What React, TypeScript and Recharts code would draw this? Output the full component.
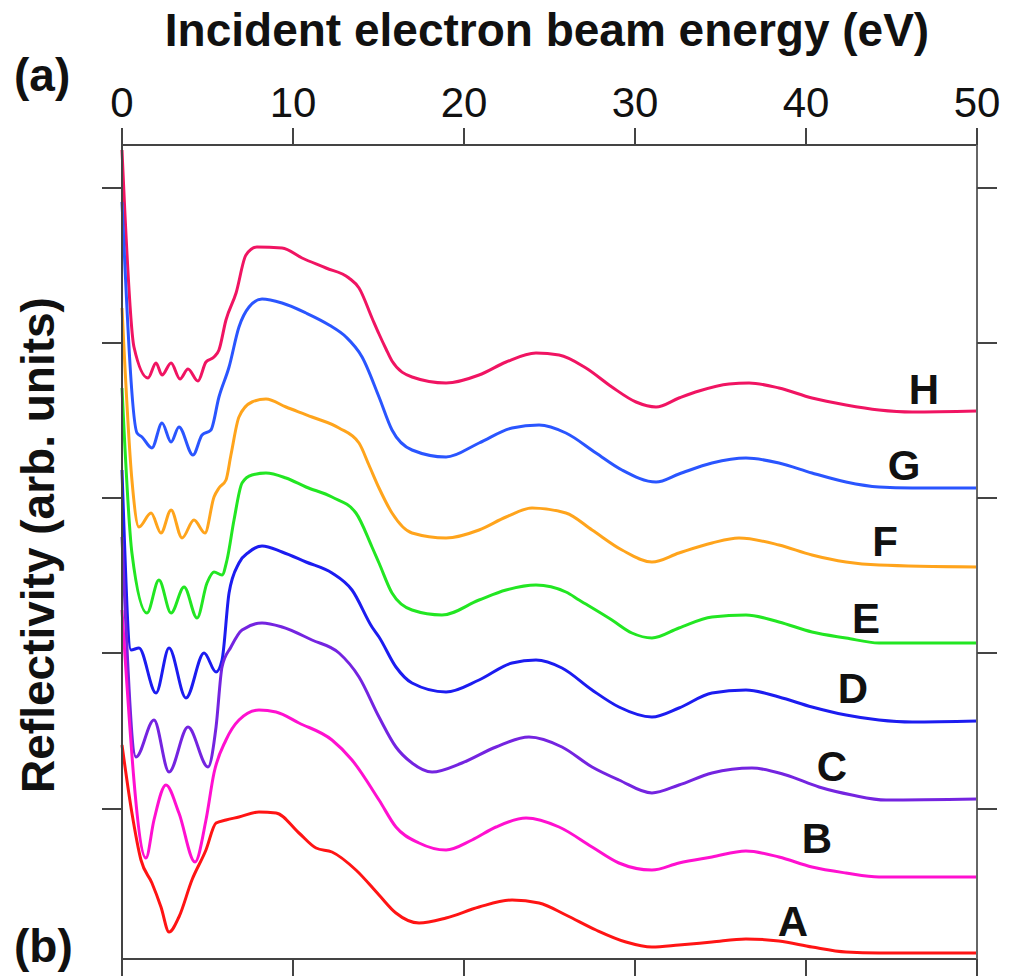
import { LineChart, Line, XAxis, YAxis, ReferenceLine } from 'recharts';

// energy (eV) and reflectivity (arb. units, curves offset vertically)
const energyH = [0, 0.7, 1.52, 1.99, 2.34, 2.87, 3.39, 3.86, 4.44, 4.91, 5.38, 5.67, 6.08, 6.67, 7.25, 7.89, 9.36, 10.53, 11.93, 13.27, 13.86, 14.62, 15.03, 15.44, 15.79, 16.96, 18.95, 20.88, 22.46, 24.21, 25.56, 27.13, 28.65, 30.06, 31.23, 32.57, 33.74, 35.5, 36.67, 38.42, 40.35, 42.34, 44.27, 46.2, 50];
const reflH = [810, 613, 582, 597, 585, 597, 581, 591, 579, 598, 603, 610, 640, 667, 705, 713, 712, 702, 692, 682, 672, 642, 626, 611, 599, 583, 577, 585, 598, 607, 605, 592, 573, 558, 553, 562, 569, 576, 577, 572, 562, 555, 550, 548, 549];

const energyG = [0, 0.88, 1.17, 1.75, 2.34, 2.87, 3.33, 4.15, 4.68, 5.2, 5.67, 6.26, 6.84, 7.43, 8.19, 9.36, 10.76, 12.11, 13.1, 14.04, 15.03, 15.79, 16.96, 18.95, 20.88, 22.81, 24.39, 25.96, 27.72, 29.24, 31.23, 32.57, 34.5, 36.49, 38.42, 40.35, 42.34, 44.27, 46.2, 50];
const reflG = [758, 527, 523, 512, 537, 518, 533, 505, 525, 530, 563, 593, 633, 653, 661, 657, 647, 635, 623, 603, 563, 530, 510, 503, 517, 532, 535, 527, 507, 490, 478, 486, 497, 502, 497, 487, 478, 473, 472, 472];

const energyF = [0, 0.58, 0.99, 1.7, 2.28, 2.87, 3.51, 4.21, 4.85, 5.38, 5.67, 6.08, 6.37, 6.84, 7.6, 8.42, 9.59, 11.11, 12.69, 13.86, 14.44, 15.03, 15.79, 16.96, 18.95, 20.88, 22.46, 23.98, 25.96, 27.49, 29.24, 30.99, 32.57, 34.5, 36.08, 38.42, 40.35, 42.34, 44.27, 50];
const reflF = [652, 480, 433, 447, 427, 450, 422, 440, 427, 463, 472, 480, 505, 543, 558, 561, 553, 543, 532, 517, 495, 472, 447, 427, 422, 430, 443, 452, 447, 430, 410, 398, 407, 417, 422, 415, 405, 398, 395, 393];

const energyE = [0, 0.58, 1.46, 2.16, 2.87, 3.63, 4.39, 4.97, 5.38, 5.85, 6.14, 6.55, 7.02, 7.6, 8.42, 9.59, 10.76, 12.28, 13.68, 14.62, 15.03, 15.79, 16.96, 18.71, 20.88, 22.46, 24.21, 25.96, 26.73, 28.65, 29.82, 30.99, 32.57, 34.5, 36.49, 38.42, 40.35, 42.34, 44.27, 50];
const reflE = [572, 407, 347, 380, 347, 373, 342, 377, 388, 385, 400, 440, 477, 485, 487, 482, 473, 463, 447, 413, 397, 367, 350, 345, 360, 370, 375, 368, 360, 340, 327, 322, 332, 343, 345, 338, 328, 322, 317, 317];

const energyD = [0, 0.53, 0.99, 1.99, 2.75, 3.74, 4.8, 5.5, 5.85, 6.26, 6.84, 7.43, 8.19, 9.36, 10.76, 12.28, 13.45, 14.62, 15.03, 16.02, 16.96, 18.95, 20.88, 22.81, 24.21, 25.73, 27.49, 29.06, 30.99, 32.57, 34.5, 36.49, 38.42, 40.35, 42.34, 44.27, 46.2, 50];
const reflD = [490, 310, 312, 267, 312, 262, 307, 288, 300, 367, 397, 408, 414, 408, 398, 387, 370, 333, 323, 293, 277, 268, 280, 297, 300, 292, 270, 253, 243, 252, 267, 270, 263, 253, 245, 240, 238, 239];

const energyC = [0, 0.82, 1.87, 2.75, 3.86, 5.03, 5.5, 5.85, 6.37, 7.02, 8.19, 9.36, 11.11, 12.69, 13.86, 15.03, 16.02, 16.96, 18.13, 19.88, 21.87, 23.8, 25.73, 27.49, 29.06, 30.99, 32.57, 34.5, 36.84, 38.83, 40.76, 42.69, 44.68, 50];
const reflC = [423, 203, 240, 188, 233, 193, 233, 293, 313, 330, 337, 333, 320, 307, 283, 243, 213, 197, 188, 197, 213, 223, 213, 193, 180, 167, 175, 187, 192, 185, 173, 165, 160, 161];

const energyB = [0, 1.4, 1.87, 2.57, 3.33, 4.27, 4.91, 5.38, 6.08, 6.84, 8.01, 9.01, 10.35, 12.28, 13.45, 15.03, 16.02, 17.37, 18.95, 20.47, 21.87, 23.63, 25.56, 27.49, 29.06, 30.99, 32.57, 34.5, 36.49, 38.42, 40.35, 42.34, 44.27, 50];
const reflB = [350, 102, 140, 175, 147, 98, 140, 187, 220, 240, 250, 248, 237, 220, 200, 160, 133, 117, 110, 120, 133, 142, 133, 113, 97, 90, 97, 103, 109, 103, 93, 87, 83, 83];

const energyA = [0, 0.58, 1.11, 1.75, 2.28, 2.75, 3.33, 4.09, 4.91, 5.5, 6.08, 6.84, 8.01, 9.01, 10.35, 11.35, 12.28, 13.68, 15.03, 16.02, 17.37, 18.95, 20.88, 22.81, 24.39, 25.96, 27.72, 29.47, 30.99, 32.57, 34.5, 36.49, 38.42, 40.35, 42.34, 44.27, 50];
const reflA = [215, 147, 100, 77, 53, 28, 43, 80, 110, 137, 140, 143, 148, 147, 127, 112, 108, 90, 65, 47, 37, 42, 53, 60, 57, 45, 30, 18, 13, 15, 18, 21, 19, 13, 8, 7, 7];

const energyTicks = [0, 10, 20, 30, 40, 50];
const reflTicks = [151, 307, 462, 617, 772];
const energyDomain = [0, 50];
const reflDomain = [1, 815];

const curves = [
  { name: 'H', energy: energyH, refl: reflH, color: '#f01462' },
  { name: 'G', energy: energyG, refl: reflG, color: '#2a55ff' },
  { name: 'F', energy: energyF, refl: reflF, color: '#ffa41c' },
  { name: 'E', energy: energyE, refl: reflE, color: '#22e622' },
  { name: 'D', energy: energyD, refl: reflD, color: '#1c1cf0' },
  { name: 'C', energy: energyC, refl: reflC, color: '#7424e0' },
  { name: 'B', energy: energyB, refl: reflB, color: '#ff10d0' },
  { name: 'A', energy: energyA, refl: reflA, color: '#ff1414' },
];

const toRows = (energy: number[], refl: number[]) =>
  energy.map((e, i) => ({ e, r: refl[i] }));

const font = 'Liberation Sans, Arial, sans-serif';
const axisColor = '#444';
const chartW = 1011;
const chartH = 976;
const plotLeft = 122;
const plotRight = 34;
const plotTop = 145;
const xTickLen = 17; // y units are 1px tall here

const TopTick = (p: any) => (
  <text x={p.x} y={p.y} textAnchor="middle" fontSize={42} fill="#111" fontFamily={font}>
    {p.payload.value}
  </text>
);
const LeftTick = (p: any) => (
  <line x1={p.x} x2={p.x + 20} y1={p.y} y2={p.y} stroke={axisColor} strokeWidth={2} />
);
const RightTick = (p: any) => (
  <line x1={p.x - 20} x2={p.x} y1={p.y} y2={p.y} stroke={axisColor} strokeWidth={2} />
);

// top ticks: same linear mapping the x axis uses (plot spans plotLeft .. chartW - plotRight)
const topTickX = (t: number) =>
  plotLeft + ((t - energyDomain[0]) / (energyDomain[1] - energyDomain[0])) * (chartW - plotLeft - plotRight);

function App() {
  return (
    <div style={{ position: 'absolute', left: 0, top: 0, width: chartW, height: chartH, background: '#fff' }}>
      <LineChart width={chartW} height={chartH} margin={{ top: 0, right: 0, bottom: 0, left: 0 }}>
        <XAxis
          xAxisId="top"
          orientation="top"
          type="number"
          dataKey="e"
          domain={energyDomain}
          ticks={energyTicks}
          height={plotTop}
          tickSize={17}
          tickMargin={11}
          tickLine={false}
          stroke={axisColor}
          strokeWidth={2}
          tick={TopTick}
        />
        <XAxis
          xAxisId="bottom"
          orientation="bottom"
          type="number"
          dataKey="e"
          domain={energyDomain}
          ticks={energyTicks}
          height={17}
          tickLine={false}
          tick={false}
          stroke={axisColor}
          strokeWidth={2}
        />
        <YAxis
          yAxisId="left"
          type="number"
          domain={reflDomain}
          ticks={reflTicks}
          width={plotLeft}
          tickSize={20}
          tickMargin={0}
          tickLine={false}
          tick={LeftTick}
          stroke={axisColor}
          strokeWidth={2}
          allowDataOverflow
        />
        <YAxis
          yAxisId="right"
          orientation="right"
          type="number"
          domain={reflDomain}
          ticks={reflTicks}
          width={plotRight}
          tickSize={20}
          tickMargin={0}
          tickLine={false}
          tick={RightTick}
          stroke="#666"
          strokeWidth={2}
          allowDataOverflow
        />
        {energyTicks.map((t) => (
          <ReferenceLine
            key={`bottom-${t}`}
            xAxisId="top"
            yAxisId="left"
            segment={[{ x: t, y: reflDomain[0] }, { x: t, y: reflDomain[0] - xTickLen }]}
            ifOverflow="visible"
            stroke={axisColor}
            strokeWidth={2}
          />
        ))}
        {curves.map((c) => (
          <Line
            key={c.name}
            xAxisId="top"
            yAxisId="left"
            data={toRows(c.energy, c.refl)}
            dataKey="r"
            type="monotone"
            stroke={c.color}
            strokeWidth={3}
            dot={false}
            isAnimationActive={false}
          />
        ))}
      </LineChart>
      <svg
        width={chartW}
        height={chartH}
        style={{ position: 'absolute', left: 0, top: 0, zIndex: 5, pointerEvents: 'none' }}
        fontFamily={font}
        fontWeight="bold"
      >
        {energyTicks.map((t) => (
          <rect
            key={`tt-${t}`}
            x={topTickX(t) - 1}
            y={plotTop - xTickLen}
            width={2}
            height={xTickLen}
            fill={axisColor}
          />
        ))}
        <g fill="#111">
          <text x={547} y={46} fontSize={46} textAnchor="middle">Incident electron beam energy (eV)</text>
          <text x={14} y={91} fontSize={46}>(a)</text>
          <text x={14} y={962} fontSize={46}>(b)</text>
          <text x={54} y={545} fontSize={46} textAnchor="middle" transform="rotate(-90 54 545)">
            Reflectivity (arb. units)
          </text>
          <text x={924} y={404} fontSize={42} textAnchor="middle">H</text>
          <text x={904} y={480} fontSize={42} textAnchor="middle">G</text>
          <text x={885} y={556} fontSize={42} textAnchor="middle">F</text>
          <text x={866} y={633} fontSize={42} textAnchor="middle">E</text>
          <text x={853} y={703} fontSize={42} textAnchor="middle">D</text>
          <text x={832} y={781} fontSize={42} textAnchor="middle">C</text>
          <text x={817} y={853} fontSize={42} textAnchor="middle">B</text>
          <text x={793} y={936} fontSize={42} textAnchor="middle">A</text>
        </g>
      </svg>
    </div>
  );
}

export default App;
